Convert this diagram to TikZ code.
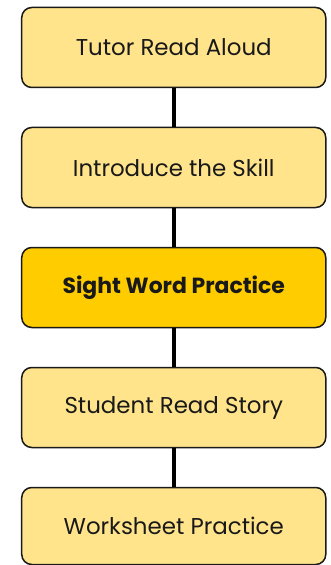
\documentclass[tikz,border=0pt]{standalone}
\usepackage{fontspec}
\setmainfont{Poppins}
\definecolor{boxfill}{HTML}{FFE48C}
\definecolor{hifill}{HTML}{FFCC00}
\definecolor{edge}{HTML}{1A1A1A}
\begin{document}
\begin{tikzpicture}[x=1bp,y=-1bp,
  stepbox/.style={draw=edge,line width=1.5bp,rounded corners=10bp,fill=boxfill,
    minimum width=304bp,minimum height=80bp,inner sep=0pt,font=\fontsize{23}{26}\selectfont,text=black!90},
  hibox/.style={stepbox,fill=hifill,font=\fontsize{22}{26}\selectfont\bfseries},
  link/.style={line width=4.5bp,draw=black}]
\useasboundingbox (0,0) rectangle (330,565);
\node[stepbox] (a) at (173.75,47.5) {Tutor Read Aloud};
\node[stepbox] (b) at (173.75,167.5) {Introduce the Skill};
\node[hibox] (c) at (173.75,287.5) {Sight Word Practice};
\node[stepbox] (d) at (173.75,407.5) {Student Read Story};
\node[stepbox,minimum height=77bp] (e) at (173.75,526) {Worksheet Practice};
\draw[link] (a.south) -- (b.north);
\draw[link] (b.south) -- (c.north);
\draw[link] (c.south) -- (d.north);
\draw[link] (d.south) -- (e.north);
\end{tikzpicture}
\end{document}
